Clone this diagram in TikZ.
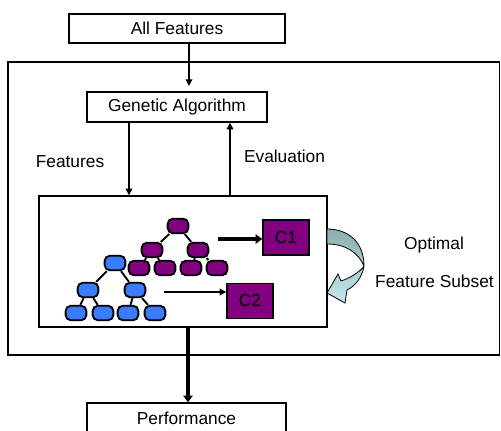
\documentclass[tikz,border=0pt]{standalone}
\usepackage{fontspec}
\setmainfont{Liberation Sans}
\usetikzlibrary{arrows.meta}
\definecolor{treepurple}{HTML}{800080}
\definecolor{treeblue}{HTML}{3B7BFF}
\definecolor{curltop}{HTML}{8DAEAE}
\definecolor{curlbot}{HTML}{C2E9EE}

\begin{document}
\begin{tikzpicture}[x=0.75pt,y=-0.75pt,
  txt/.style={font=\fontsize{13}{15}\selectfont},
  box/.style={draw, line width=1.1pt, rectangle, inner sep=0pt, txt},
  lbl/.style={txt, inner sep=0pt},
  cls/.style={box, fill=treepurple, minimum width=34.5pt, minimum height=26pt},
  tnode/.style={rectangle, rounded corners=3.8pt, draw, line width=1.4pt,
    minimum width=15.5pt, minimum height=10.8pt, inner sep=0pt},
  pnode/.style={tnode, fill=treepurple},
  bnode/.style={tnode, fill=treeblue},
  link/.style={line width=1.4pt},
  thinarrow/.style={line width=1.1pt, -{Triangle[length=5pt,width=5pt]}},
  thickarrow/.style={line width=3pt, -{Triangle[length=5pt,width=7pt]}},
]
\useasboundingbox (0,0) rectangle (501,430);

% outer frame and the classifier block
\node[box, minimum width=368.6pt, minimum height=219.75pt] (frame) at (253.75,208.5) {};
\node[box, minimum width=216pt, minimum height=98.25pt] (sys) at (183,261.5) {};

% boxes
\node[box, minimum width=162pt, minimum height=21.75pt] (allf) at (177,28.5) {All Features};
\node[box, minimum width=135pt, minimum height=22.5pt] (ga) at (177,107) {Genetic Algorithm};
\node[box, minimum width=149.25pt, minimum height=22.5pt] (perf) at (186.5,418) {Performance};

% classifiers
\node[cls] (c1) at (286,237.5) {C1};
\node[cls] (c2) at (250,301) {C2};

% labels
\node[lbl] (lfeat) at (70,162) {Features};
\node[lbl] (leval) at (284.5,156) {Evaluation};
\node[lbl] (lopt) at (434,245) {Optimal};
\node[lbl] (lsub) at (434.5,281) {Feature Subset};

% purple tree
\node[pnode] (p0) at (178,226) {};
\node[pnode] (p1) at (152,250) {};
\node[pnode] (p2) at (198,250) {};
\node[pnode] (p3) at (139,268) {};
\node[pnode] (p4) at (165,268) {};
\node[pnode] (p5) at (191,268) {};
\node[pnode] (p6) at (217,268) {};
\draw[link] (p0) -- (p1) (p0) -- (p2) (p1) -- (p3) (p1) -- (p4) (p2) -- (p5) (p2) -- (p6);

% blue tree
\node[bnode] (b0) at (115,263) {};
\node[bnode] (b1) at (88,290) {};
\node[bnode] (b2) at (135,290) {};
\node[bnode] (b3) at (76,313) {};
\node[bnode] (b4) at (103,313) {};
\node[bnode] (b5) at (128,313) {};
\node[bnode] (b6) at (155,313) {};
\draw[link] (b0) -- (b1) (b0) -- (b2) (b1) -- (b3) (b1) -- (b4) (b2) -- (b5) (b2) -- (b6);

% connectors
\coordinate (xa) at (189,0);
\coordinate (xf) at (129,0);
\coordinate (xe) at (230,0);
\coordinate (xp) at (188,0);
\coordinate (ya) at (0,239);
\coordinate (yb) at (0,292);
\coordinate (s1) at (218,239);
\coordinate (s2) at (164,292);
\draw[thinarrow, shorten >=4pt] (allf.south -| xa) -- (ga.north -| xa);
\draw[thinarrow] (ga.south -| xf) -- (sys.north -| xf);
\draw[thinarrow] (sys.north -| xe) -- (ga.south -| xe);
\draw[thickarrow] (sys.south -| xp) -- (perf.north -| xp);
\draw[thickarrow] (s1) -- (c1.west |- ya);
\draw[thinarrow] (s2) -- (c2.west |- yb);

% curled feedback arrow
\path[draw=black, line width=0.6pt, top color=curltop, bottom color=curlbot]
  (327,229) .. controls (348,229) and (364,242) .. (364,266)
  .. controls (362,278) and (355,286) .. (347,290)
  -- (345,303) -- (327,293) -- (338,274) -- (341,281)
  .. controls (350,278) and (360,272) .. (364,266)
  .. controls (358,252) and (345,244) .. (327,244) -- cycle;
\end{tikzpicture}
\end{document}
